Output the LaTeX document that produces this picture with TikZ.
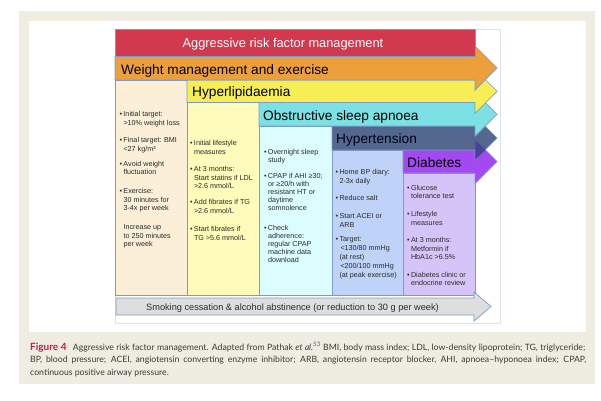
\documentclass[tikz,border=0pt]{standalone}
\usepackage{fontspec}
\setmainfont{Liberation Sans}
\newfontfamily\capfont{Lato}
\definecolor{pagebg}{HTML}{EFEDE1}
\definecolor{framec}{HTML}{DCE2EC}
\definecolor{outl}{HTML}{7D9BC6}
\definecolor{cred}{HTML}{D2394E}
\definecolor{corange}{HTML}{ECA03C}
\definecolor{cyellow}{HTML}{F7EE55}
\definecolor{ccyan}{HTML}{7BE1E4}
\definecolor{cslate}{HTML}{53678F}
\definecolor{cpurple}{HTML}{A448F2}
\definecolor{covl}{HTML}{4A3F9E}
\definecolor{colA}{HTML}{FCEFD8}
\definecolor{colB}{HTML}{FFFBBA}
\definecolor{colC}{HTML}{DCFDFF}
\definecolor{colD}{HTML}{BED3F7}
\definecolor{colE}{HTML}{D5C4F8}
\definecolor{smokegray}{HTML}{DEDEDE}
\definecolor{txt}{HTML}{2A2A2A}
\definecolor{figred}{HTML}{C8194B}
\definecolor{supblue}{HTML}{3355CC}
\definecolor{captxt}{HTML}{3A3A3A}
\newcommand{\bu}{\makebox[3.8pt][l]{\textbullet}}
\newcommand{\ind}{\hspace*{3.8pt}}
\newcommand{\st}{\rule{0pt}{6pt}}
\begin{document}
\begin{tikzpicture}[x=1pt,y=-1pt,
  colbox/.style={draw=outl, line width=0.7pt},
  barshape/.style={draw=outl, line width=0.7pt},
  itm/.style={anchor=north west, inner sep=0pt, align=left, text=txt, font=\fontsize{7.2}{8.5}\selectfont},
  itmC/.style={itm, font=\fontsize{7.2}{7.9}\selectfont},
  itmD/.style={itm, font=\fontsize{7.2}{8.9}\selectfont},
  bartxt/.style={anchor=base west, inner sep=0pt, font=\fontsize{13.7}{16}\selectfont},
  captxt/.style={anchor=base west, inner sep=0pt, text=captxt, font=\capfont\fontsize{8.7}{10}\selectfont}
]
\useasboundingbox (0,0) rectangle (601,400);
\fill[white] (0,0) rectangle (601,400);
\fill[pagebg] (18.5,11) rectangle (595,384);
\fill[white] (29,21) rectangle (586,332);
\draw[framec, line width=0.6pt] (115,29) rectangle (500,323);

% columns
\draw[colbox, fill=colA] (115,80) rectangle (475,295);
\draw[colbox, fill=colB] (187,102.5) rectangle (475,295);
\draw[colbox, fill=colC] (259,126) rectangle (475,295);
\draw[colbox, fill=colD] (332,150) rectangle (475,295);
\draw[colbox, fill=colE] (403,173) rectangle (475,295);

% arrow bars (bottom first so upper heads lie on top)
\draw[barshape, fill=cpurple] (403,150) -- (475,150) -- (475,139.5) -- (497,161.5) -- (475,183.5) -- (475,173) -- (403,173) -- cycle;
\draw[barshape, fill=cslate] (332,126) -- (475,126) -- (475,116) -- (497,138) -- (475,160) -- (475,150) -- (332,150) -- cycle;
\fill[covl] (475.35,140.3) -- (485.5,150) -- (475.35,159.7) -- cycle;
\draw[barshape, fill=ccyan] (259,102.5) -- (475,102.5) -- (475,92.25) -- (497,114.25) -- (475,136.25) -- (475,126) -- (259,126) -- cycle;
\draw[barshape, fill=cyellow] (187,80) -- (475,80) -- (475,69.25) -- (497,91.25) -- (475,113.25) -- (475,102.5) -- (187,102.5) -- cycle;
\draw[barshape, fill=corange] (115,56) -- (475,56) -- (475,46) -- (497,68) -- (475,90) -- (475,80) -- (115,80) -- cycle;
\draw[barshape, fill=cred] (115,29) rectangle (475,56);

% smoking arrow
\draw[barshape, fill=smokegray] (116,298) -- (474,298) -- (474,292) -- (491,306.5) -- (474,321) -- (474,315) -- (116,315) -- cycle;

% bar titles
\node[anchor=base, inner sep=0pt, text=white, font=\fontsize{12.8}{15}\selectfont] (tmain) at (283,47) {Aggressive risk factor management};
\node[bartxt] (tweight) at (121,74) {Weight management and exercise};
\node[bartxt] (tlipid) at (192,96.5) {Hyperlipidaemia};
\node[bartxt] (tosa) at (263,120) {Obstructive sleep apnoea};
\node[bartxt, text=black!90!blue] (thyp) at (336,143.5) {Hypertension};
\node[bartxt] (tdiab) at (407,167.5) {Diabetes};
\node[anchor=base west, inner sep=0pt, text=txt, font=\fontsize{9.2}{11}\selectfont] (tsmoke) at (146,310) {Smoking cessation \& alcohol abstinence (or reduction to 30 g per week)};

% column 1
\node[itm] (c1a) at (119.5,110.5) {\st\bu Initial target:\\\ind >10\% weight loss};
\node[itm] (c1b) at (119.5,136.5) {\st\bu Final target: BMI\\\ind <27 kg/m²};
\node[itm] (c1c) at (119.5,160) {\st\bu Avoid weight\\\ind fluctuation};
\node[itm] (c1d) at (119.5,187.5) {\st\bu Exercise:\\\ind 30 minutes for\\\ind 3-4x per week};
\node[itm] (c1e) at (119.5,223.5) {\st\ind Increase up\\\ind to 250 minutes\\\ind per week};

% column 2
\node[itm] (c2a) at (190,139.5) {\st\bu Initial lifestyle\\\ind measures};
\node[itm] (c2b) at (190,165.5) {\st\bu At 3 months:\\\ind Start statins if LDL\\\ind >2.6 mmol/L};
\node[itm] (c2c) at (190,198.5) {\st\bu Add fibrates if TG\\\ind >2.6 mmol/L};
\node[itm] (c2d) at (190,225.5) {\st\bu Start fibrates if\\\ind TG >5.6 mmol/L};

% column 3
\node[itmC] (c3a) at (264,148) {\st\bu Overnight sleep\\\ind study};
\node[itmC] (c3b) at (264,172.5) {\st\bu CPAP if AHI ≥30;\\\ind or ≥20/h with\\\ind resistant HT or\\\ind daytime\\\ind somnolence};
\node[itmC] (c3c) at (264,224.5) {\st\bu Check\\\ind adherence:\\\ind regular CPAP\\\ind machine data\\\ind download};

% column 4
\node[itmD] (c4a) at (335.5,168.2) {\st\bu Home BP diary:\\\ind 2-3x daily};
\node[itmD] (c4b) at (335.5,194.2) {\st\bu Reduce salt};
\node[itmD] (c4c) at (335.5,212.2) {\st\bu Start ACEI or\\\ind ARB};
\node[itmD] (c4d) at (335.5,235.5) {\st\bu Target:\\\ind\hspace*{1pt}<130/80 mmHg\\\ind (at rest)\\\ind\hspace*{1pt}<200/100 mmHg\\\ind (at peak exercise)};

% column 5
\node[itm] (c5a) at (407,184.2) {\st\bu Glucose\\\ind tolerance test};
\node[itm] (c5b) at (407,210.5) {\st\bu Lifestyle\\\ind measures};
\node[itm] (c5c) at (407,236.5) {\st\bu At 3 months:\\\ind Metformin if\\\ind HbA1c >6.5\%};
\node[itm] (c5d) at (407,270.8) {\st\bu Diabetes clinic or\\\ind endocrine review};

% caption
\node[captxt] (cap1) at (30,350) {\makebox[555pt][s]{{\bfseries\color{figred}\fontsize{10}{11}\selectfont Figure 4}\hspace{4pt} Aggressive risk factor management. Adapted from Pathak \textit{et al.}\textsuperscript{\color{supblue}53} BMI, body mass index; LDL, low-density lipoprotein; TG, triglyceride;}};
\node[captxt] (cap2) at (30,362.5) {\makebox[556pt][s]{BP, blood pressure; ACEI, angiotensin converting enzyme inhibitor; ARB, angiotensin receptor blocker, AHI, apnoea–hyponoea index; CPAP,}};
\node[captxt] (cap3) at (30,375) {continuous positive airway pressure.};
\end{tikzpicture}
\end{document}
